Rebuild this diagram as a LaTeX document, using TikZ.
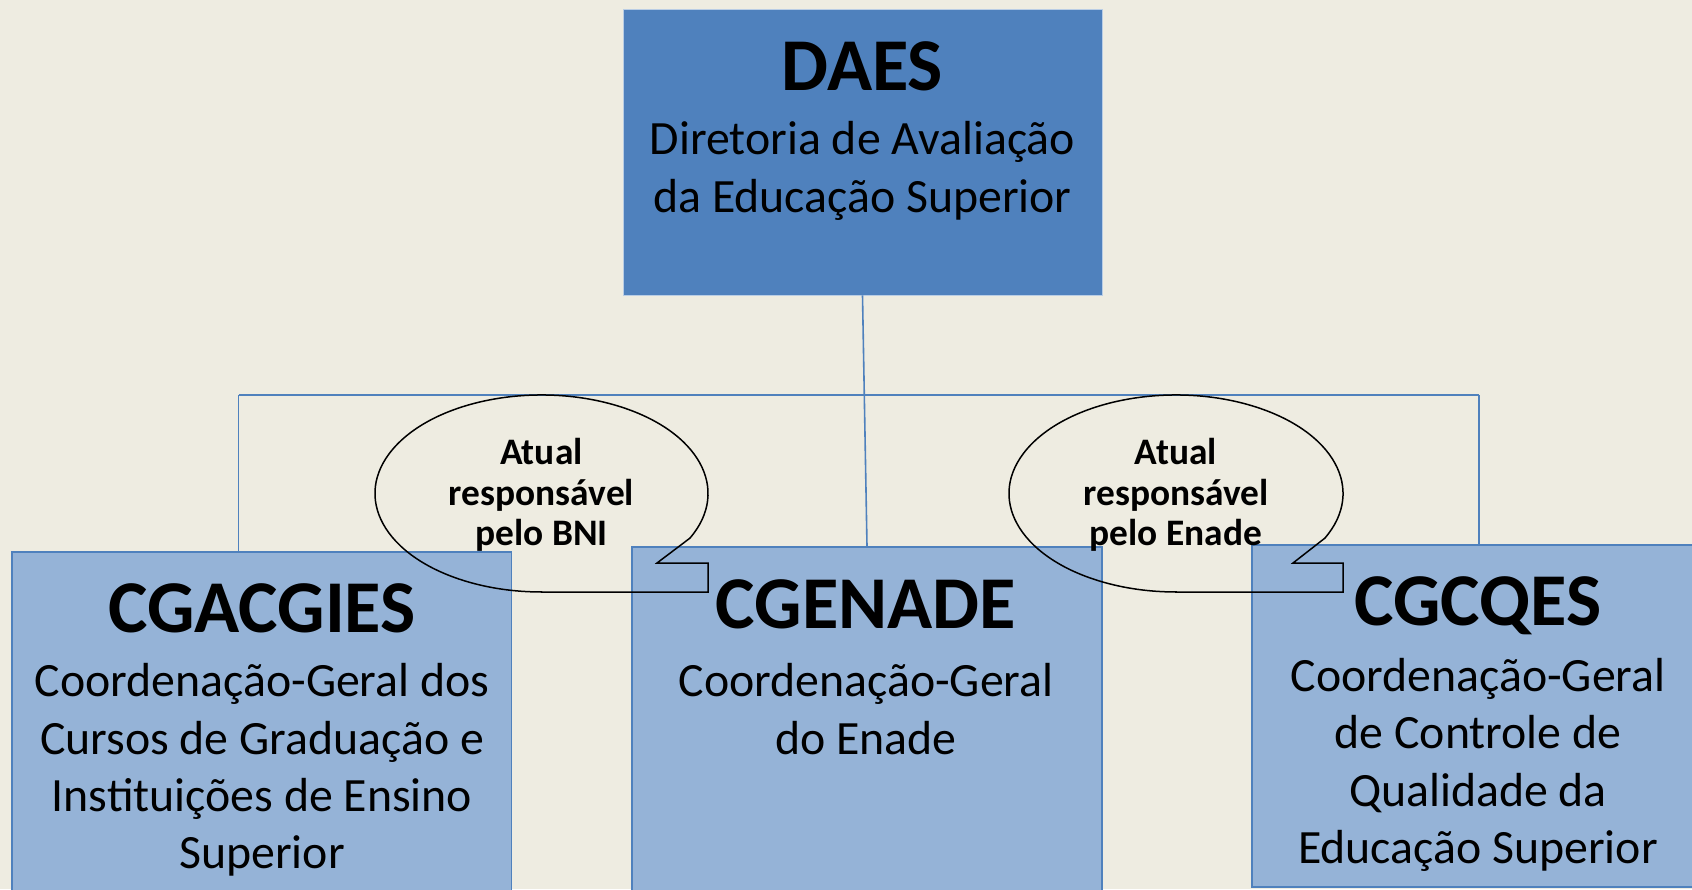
\documentclass[tikz,border=0pt]{standalone}
\usepackage{fontspec}
\setmainfont{Carlito}
\definecolor{bg}{HTML}{EEECE1}
\definecolor{dark}{HTML}{4F81BD}
\definecolor{light}{HTML}{95B3D7}
\definecolor{daesedge}{HTML}{B9CDE5}
\tikzset{
  topbox/.style={draw=daesedge, line width=0.8pt, fill=dark, rectangle, inner sep=0pt},
  subbox/.style={draw=dark, line width=1.5pt, fill=light, rectangle, inner sep=0pt},
  conn/.style={draw=dark, line width=1.6pt},
  callout/.style={draw=black, line width=1.5pt, line join=miter},
  title/.style={inner sep=0pt, anchor=base, font=\fontsize{74.5pt}{86pt}\selectfont\bfseries},
  body/.style={inner sep=0pt, align=center, font=\fontsize{47.8pt}{57.2pt}\selectfont},
  calltext/.style={inner sep=0pt, align=center, font=\fontsize{37.4pt}{40.5pt}\selectfont\bfseries}
}
\begin{document}
\begin{tikzpicture}[x=1pt, y=-1pt]
\useasboundingbox (0,0) rectangle (1692,889);
\fill[bg] (0,0) rectangle (1692,889);
\clip (0,0) rectangle (1692,889);
% boxes
\node[topbox, minimum width=479pt, minimum height=286pt] (daes) at (862.5,152) {};
\node[subbox, minimum width=499.5pt, minimum height=408pt] (cgacgies) at (261.75,756) {};
\node[subbox, minimum width=470pt, minimum height=403pt] (cgenade) at (867,748.5) {};
\node[subbox, minimum width=453pt, minimum height=342pt] (cgcqes) at (1478.5,716) {};
% connectors
\coordinate (hl) at (238.5,395);
\coordinate (hr) at (1479,395);
\draw[conn] (daes.south) -- (cgenade.north);
\draw[conn] (hl) -- (hr);
\draw[conn] (hl) -- (hl |- cgacgies.north);
\draw[conn] (hr) -- (hr |- cgcqes.north);
% texts
\node[title] (t1) at (862.5,90) {DAES};
\node[body] (b1) at (862.5,171) {Diretoria de Avaliação\\da Educação Superior};
\node[title] (t2) at (262,632) {CGACGIES};
\node[body] (b2) at (262,770) {Coordenação-Geral dos\\Cursos de Graduação e\\Instituições de Ensino\\Superior};
\node[title] (t3) at (866,628) {CGENADE};
\node[body] (b3) at (866,709) {Coordenação-Geral\\do Enade};
\node[title] (t4) at (1478,625) {CGCQES};
\node[body] (b4) at (1478,765) {Coordenação-Geral\\de Controle de\\Qualidade da\\Educação Superior};
% callouts
\coordinate (e1) at (541.5,493.5);
\coordinate (e2) at (1176,493.5);
\draw[callout] (541.5,592) -- (708,592) -- (708,563) -- (657,563) -- (689.85,538.2)
  arc[start angle=-27, end angle=270, x radius=166.5pt, y radius=98.5pt] -- cycle;
\draw[callout] (1176,592) -- (1343,592) -- (1343,563) -- (1293,563) -- (1324.8,538.2)
  arc[start angle=-27, end angle=270, x radius=167pt, y radius=98.5pt] -- cycle;
\node[calltext] (c1) at (541.5,495) {Atual\\responsável\\pelo BNI};
\node[calltext] (c2) at (1176,495) {Atual\\responsável\\pelo Enade};
\end{tikzpicture}
\end{document}
